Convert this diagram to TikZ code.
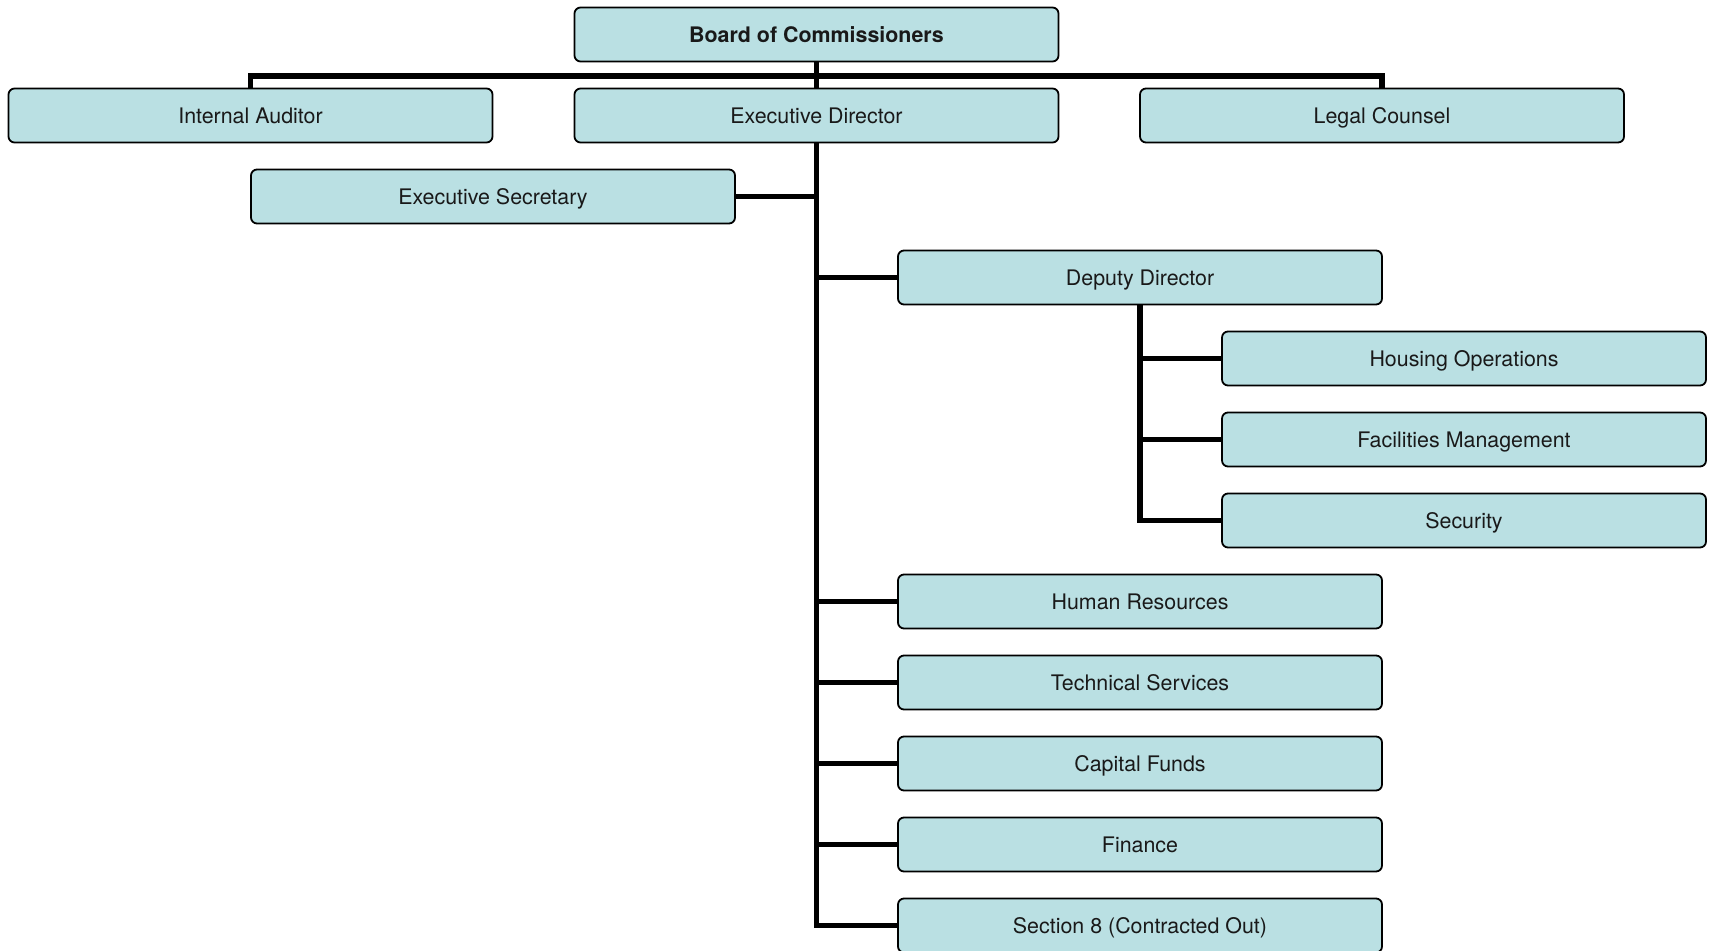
\documentclass[tikz,border=0pt]{standalone}
\usepackage{fontspec}
\setmainfont{TeX Gyre Heros}
\definecolor{boxfill}{HTML}{BAE0E3}
\begin{document}
\begin{tikzpicture}[x=1pt,y=-1pt,
  unit/.style={draw=black, line width=1.8pt, fill=boxfill, rounded corners=6pt,
    minimum width=484pt, minimum height=54pt, inner sep=0pt,
    text height=20pt, text depth=4pt,
    font=\fontsize{21.4}{24}\selectfont, text=black!90},
  link/.style={line width=5.5pt, line join=miter, line cap=butt}]
\useasboundingbox (0,0) rectangle (1712,950);
\node[unit, font=\fontsize{21.4}{24}\selectfont\bfseries] (bd) at (816.5,34.5) {Board of Commissioners};
\node[unit] (ia) at (250.5,115.5) {Internal Auditor};
\node[unit] (ed) at (816.5,115.5) {Executive Director};
\node[unit] (lc) at (1382,115.5) {Legal Counsel};
\node[unit] (es) at (493,196.5) {Executive Secretary};
\node[unit] (dd) at (1140,277.5) {Deputy Director};
\node[unit] (ho) at (1464,358.5) {Housing Operations};
\node[unit] (fm) at (1464,439.5) {Facilities Management};
\node[unit] (se) at (1464,520.5) {Security};
\node[unit] (hr) at (1140,601.5) {Human Resources};
\node[unit] (ts) at (1140,682.5) {Technical Services};
\node[unit] (cf) at (1140,763.5) {Capital Funds};
\node[unit] (fi) at (1140,844.5) {Finance};
\node[unit] (s8) at (1140,925.5) {Section 8 (Contracted Out)};
\coordinate (bar) at (816.5,76);
\draw[link] (bd.south) -- (ed.north);
\draw[link] (ia.north) -- (ia.north |- bar) -- (lc.north |- bar) -- (lc.north);
\draw[link] (ed.south) -- (ed.south |- s8.west) -- (s8.west);
\draw[link] (ed.south |- es.east) -- (es.east);
\draw[link] (ed.south |- dd.west) -- (dd.west);
\draw[link] (ed.south |- hr.west) -- (hr.west);
\draw[link] (ed.south |- ts.west) -- (ts.west);
\draw[link] (ed.south |- cf.west) -- (cf.west);
\draw[link] (ed.south |- fi.west) -- (fi.west);
\draw[link] (dd.south) -- (dd.south |- se.west) -- (se.west);
\draw[link] (dd.south |- ho.west) -- (ho.west);
\draw[link] (dd.south |- fm.west) -- (fm.west);
\end{tikzpicture}
\end{document}
